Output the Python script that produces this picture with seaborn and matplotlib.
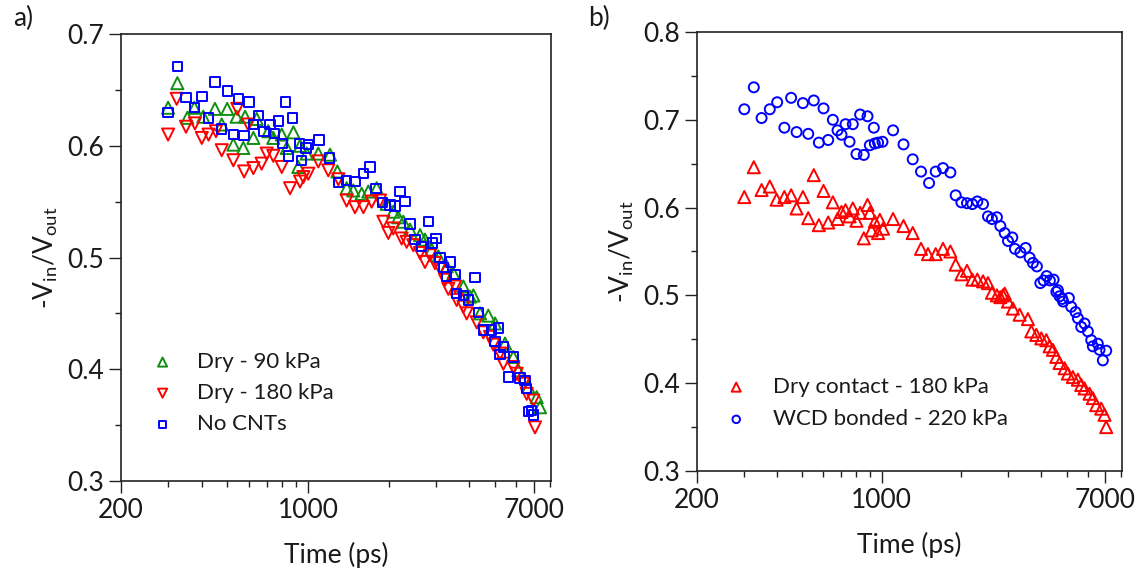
import numpy as np
import pandas as pd
import matplotlib
matplotlib.use("Agg")
import matplotlib.pyplot as plt
import matplotlib.ticker as mticker
import seaborn as sns

# ---------------- data ----------------
# Panel a) : Dry - 90 kPa (green, up triangles)
a_green_t = [300, 325, 376, 354, 406, 449, 499, 541, 582, 643, 476, 526, 573, 625,
             711, 742, 798, 882, 833, 934, 989, 920, 1093, 1209, 1288, 1395, 1477,
             1587, 1681, 1806, 1969, 2084, 2176, 2272, 2406, 2624, 2738, 2900, 3071,
             3300, 3495, 3810, 4152, 4035, 4398, 4723, 5003, 5453, 5857, 6116, 6666,
             7162, 7370]
a_green_v = [0.634, 0.656, 0.634, 0.625, 0.626, 0.633, 0.633, 0.626, 0.626, 0.624,
             0.619, 0.601, 0.598, 0.607, 0.613, 0.607, 0.610, 0.612, 0.598, 0.600,
             0.593, 0.581, 0.593, 0.592, 0.577, 0.562, 0.560, 0.557, 0.559, 0.562,
             0.548, 0.541, 0.536, 0.532, 0.525, 0.520, 0.516, 0.507, 0.501, 0.492,
             0.486, 0.474, 0.466, 0.465, 0.450, 0.448, 0.441, 0.423, 0.411, 0.399,
             0.384, 0.375, 0.366]

# Panel a) : Dry - 180 kPa (red, down triangles)
a_red_t = [300, 323, 350, 378, 401, 425, 453, 476, 526, 577, 625, 671, 544, 598, 701,
           742, 798, 857, 934, 961, 1003, 1093, 1191, 1299, 1395, 1499, 1611, 1730,
           1859, 1913, 1997, 2084, 2240, 2339, 2476, 2624, 2738, 2859, 2984, 3116,
           3252, 3347, 3546, 3597, 3810, 3920, 4273, 4525, 4792, 4932, 5224, 5376,
           5857, 6028, 6384, 6570, 6958, 7060]
a_red_v = [0.610, 0.642, 0.617, 0.620, 0.607, 0.610, 0.613, 0.596, 0.587, 0.577,
           0.580, 0.584, 0.633, 0.619, 0.593, 0.591, 0.581, 0.562, 0.568, 0.572,
           0.575, 0.586, 0.578, 0.570, 0.551, 0.545, 0.545, 0.550, 0.551, 0.532,
           0.522, 0.526, 0.517, 0.514, 0.511, 0.504, 0.496, 0.502, 0.495, 0.490,
           0.480, 0.472, 0.474, 0.462, 0.456, 0.450, 0.442, 0.433, 0.429, 0.422,
           0.414, 0.405, 0.402, 0.396, 0.387, 0.378, 0.372, 0.348]

# Panel a) : No CNTs (blue, squares)
a_blue_t = [325, 300, 350, 376, 401, 449, 499, 551, 602, 425, 476, 526, 577, 652, 625,
            685, 721, 775, 826, 877, 749, 802, 845, 928, 947, 983, 1003, 1100, 1202,
            1302, 1395, 1499, 1611, 1705, 1796, 1902, 2026, 2115, 2208, 2305, 2406,
            2512, 2661, 2818, 2925, 3010, 3116, 3206, 3416, 3546, 3300, 4212, 3597,
            3810, 3977, 4335, 4525, 4862, 5148, 5003, 5376, 5224, 5857, 5611, 6204,
            6476, 6570, 6859, 6958, 6666]
a_blue_v = [0.671, 0.630, 0.643, 0.634, 0.644, 0.657, 0.649, 0.642, 0.639, 0.625,
            0.615, 0.610, 0.609, 0.627, 0.619, 0.613, 0.619, 0.622, 0.639, 0.625,
            0.611, 0.602, 0.591, 0.602, 0.587, 0.598, 0.601, 0.605, 0.589, 0.567,
            0.569, 0.568, 0.575, 0.581, 0.562, 0.549, 0.547, 0.546, 0.559, 0.550,
            0.530, 0.516, 0.510, 0.532, 0.513, 0.517, 0.500, 0.491, 0.496, 0.485,
            0.483, 0.482, 0.468, 0.466, 0.462, 0.451, 0.435, 0.435, 0.437, 0.425,
            0.420, 0.413, 0.411, 0.393, 0.392, 0.390, 0.383, 0.363, 0.359, 0.362]

# Panel b) : Dry contact - 180 kPa (red, up triangles)
b_red_t = [302, 328, 351, 377, 400, 428, 454, 476, 503, 527, 553, 578, 602, 627, 653,
           680, 704, 729, 755, 777, 802, 828, 855, 883, 901, 914, 941, 968, 983, 1011,
           1103, 1208, 1309, 1407, 1495, 1599, 1704, 1817, 1903, 2000, 2100, 2200,
           2298, 2415, 2521, 2610, 2725, 2808, 2871, 2916, 3001, 3133, 3321, 3570,
           3677, 3840, 4011, 4190, 4312, 4437, 4572, 4704, 4914, 5056, 5280, 5516,
           5680, 5846, 6106, 6284, 6472, 6760, 6957, 7060]
b_red_v = [0.612, 0.646, 0.620, 0.624, 0.609, 0.612, 0.614, 0.599, 0.612, 0.588,
           0.637, 0.580, 0.619, 0.583, 0.606, 0.587, 0.595, 0.597, 0.590, 0.599,
           0.585, 0.594, 0.565, 0.603, 0.594, 0.574, 0.584, 0.571, 0.586, 0.576,
           0.587, 0.579, 0.571, 0.553, 0.547, 0.547, 0.553, 0.550, 0.535, 0.524,
           0.528, 0.518, 0.518, 0.516, 0.514, 0.503, 0.500, 0.498, 0.500, 0.502,
           0.493, 0.485, 0.478, 0.473, 0.459, 0.455, 0.451, 0.449, 0.442, 0.438,
           0.430, 0.423, 0.417, 0.411, 0.407, 0.404, 0.398, 0.394, 0.388, 0.383,
           0.375, 0.371, 0.364, 0.350]

# Panel b) : WCD bonded - 220 kPa (blue, circles)
b_blue_t = [302, 328, 351, 377, 402, 428, 454, 476, 503, 527, 553, 578, 602, 627, 653,
            680, 704, 729, 755, 777, 802, 828, 855, 883, 901, 933, 941, 968, 1006,
            1103, 1208, 1309, 1407, 1509, 1599, 1704, 1817, 1903, 2000, 2100, 2200,
            2298, 2415, 2521, 2610, 2725, 2808, 2916, 3001, 3116, 3188, 3342, 3500,
            3623, 3729, 3860, 3977, 4093, 4202, 4323, 4465, 4572, 4634, 4704, 4814,
            4850, 5100, 5207, 5406, 5516, 5680, 5846, 6017, 6196, 6284, 6562, 6660,
            7060, 6855]
b_blue_v = [0.712, 0.737, 0.702, 0.712, 0.720, 0.691, 0.725, 0.686, 0.719, 0.684,
            0.722, 0.674, 0.713, 0.677, 0.700, 0.688, 0.683, 0.695, 0.675, 0.695,
            0.661, 0.706, 0.660, 0.704, 0.671, 0.691, 0.673, 0.674, 0.675, 0.688,
            0.672, 0.655, 0.641, 0.628, 0.641, 0.645, 0.640, 0.614, 0.606, 0.605,
            0.604, 0.607, 0.604, 0.590, 0.587, 0.589, 0.579, 0.571, 0.562, 0.566,
            0.553, 0.549, 0.554, 0.543, 0.537, 0.533, 0.514, 0.517, 0.522, 0.517,
            0.518, 0.504, 0.506, 0.499, 0.496, 0.493, 0.497, 0.487, 0.481, 0.474,
            0.464, 0.468, 0.459, 0.449, 0.442, 0.445, 0.438, 0.437, 0.426]

labels_a = ["Dry - 90 kPa", "Dry - 180 kPa", "No CNTs"]
labels_b = ["Dry contact - 180 kPa", "WCD bonded - 220 kPa"]
x_ticks = [200, 1000, 7000]
ya_ticks = [0.3, 0.4, 0.5, 0.6, 0.7]
yb_ticks = [0.3, 0.4, 0.5, 0.6, 0.7, 0.8]

# ---------------- styling ----------------
sns.set_style("white")
plt.rcParams["font.family"] = ["Lato", "DejaVu Sans"]
plt.rcParams["mathtext.default"] = "regular"
TXT = "#1a1a1a"
FS = 19

fig = plt.figure(figsize=(11.47, 5.71), dpi=100)
axA = fig.add_axes([121 / 1147, 1 - 481 / 571, 430 / 1147, 447 / 571])
axB = fig.add_axes([697 / 1147, 1 - 471 / 571, 425 / 1147, 439 / 571])

def draw(ax, t, v, marker, color, size, label):
    df = pd.DataFrame({"t": t, "v": v})
    sns.scatterplot(data=df, x="t", y="v", ax=ax, marker=marker, s=size,
                    facecolors="none", edgecolor=color, linewidth=1.4,
                    label=label, zorder=3)

draw(axA, a_green_t, a_green_v, "^", "#118f11", 76, labels_a[0])
draw(axA, a_red_t, a_red_v, "v", "#ff0000", 76, labels_a[1])
draw(axA, a_blue_t, a_blue_v, "s", "#0000ff", 46, labels_a[2])

draw(axB, b_red_t, b_red_v, "^", "#ff0000", 76, labels_b[0])
draw(axB, b_blue_t, b_blue_v, "o", "#0000ff", 52, labels_b[1])

def style(ax, yticks, ylim, ypad):
    ax.set_xscale("log")
    ax.set_xlim(200, 8100)
    ax.set_ylim(*ylim)
    ax.xaxis.set_major_locator(mticker.FixedLocator(x_ticks))
    ax.xaxis.set_major_formatter(mticker.FixedFormatter([str(x) for x in x_ticks]))
    minors = [m * 10 ** e for e in (2, 3) for m in range(2, 10)
              if m * 10 ** e not in x_ticks and 200 < m * 10 ** e < 8100]
    ax.xaxis.set_minor_locator(mticker.FixedLocator(minors))
    ax.xaxis.set_minor_formatter(mticker.NullFormatter())
    ax.yaxis.set_major_locator(mticker.FixedLocator(yticks))
    ax.yaxis.set_major_formatter(mticker.FormatStrFormatter("%.1f"))
    ax.yaxis.set_minor_locator(mticker.MultipleLocator(0.05))
    ax.tick_params(which="major", direction="out", length=8.5, width=1.0,
                   colors="#222222", labelsize=FS, labelcolor=TXT, pad=4,
                   bottom=True, left=True, top=False, right=False)
    ax.tick_params(which="minor", direction="out", length=4.5, width=1.0,
                   colors="#222222", bottom=True, left=True, top=False, right=False)
    for sp in ax.spines.values():
        sp.set_visible(True)
        sp.set_color("#222222")
        sp.set_linewidth(1.2)
    ax.set_xlabel("Time (ps)", fontsize=FS, color=TXT, labelpad=13)
    ax.set_ylabel(r"-V$_{in}$/V$_{out}$", fontsize=FS, color=TXT, labelpad=ypad)

style(axA, ya_ticks, (0.3, 0.7), 5)
style(axB, yb_ticks, (0.3, 0.8), 5)

legA = axA.legend(loc="lower left", bbox_to_anchor=(0.045, 0.085), frameon=False,
                  fontsize=16, markerscale=0.75, handletextpad=0.95,
                  labelspacing=0.5, borderaxespad=0, handlelength=1.2)
legB = axB.legend(loc="lower left", bbox_to_anchor=(0.04, 0.075), frameon=False,
                  fontsize=16, markerscale=0.75, handletextpad=1.05,
                  labelspacing=0.55, borderaxespad=0, handlelength=1.2)
for leg in (legA, legB):
    for tx in leg.get_texts():
        tx.set_color(TXT)

fig.text(13 / 1147, 1 - 6 / 571, "a)", fontsize=FS, color=TXT, va="top", ha="left")
fig.text(588 / 1147, 1 - 6 / 571, "b)", fontsize=FS, color=TXT, va="top", ha="left")

fig.savefig("out.png", dpi=100)
